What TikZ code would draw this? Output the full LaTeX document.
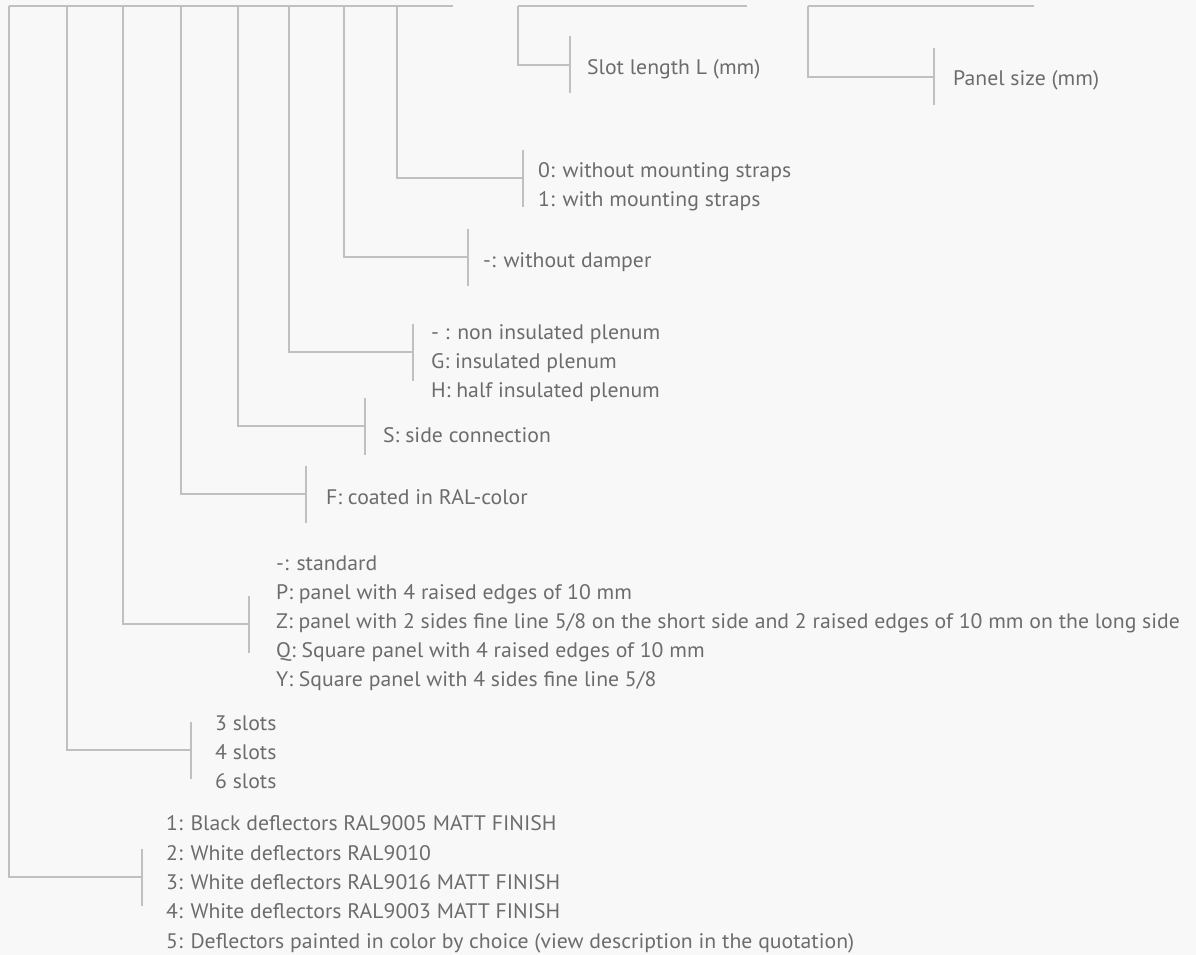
\documentclass[tikz,border=0pt]{standalone}
\usepackage{fontspec}
\setmainfont{PT Sans}[FakeStretch=1.035]
\usetikzlibrary{calc}
\definecolor{bggray}{RGB}{248,248,248}
\definecolor{linegray}{RGB}{192,192,192}
\definecolor{textgray}{RGB}{108,108,108}
\tikzset{
  leader/.style = {draw = linegray, line width = 1.2pt},
  item/.style = {anchor = base west, inner sep = 0pt, text = textgray,
                 font = \fontsize{21}{29}\selectfont}
}
% draw a short vertical bracket through a coordinate
\newcommand{\bracketat}[1]{\draw[leader] ($(#1) + (0,-28.5)$) -- ($(#1) + (0,28.5)$);}

\begin{document}
\begin{tikzpicture}[x = 1pt, y = -1pt]
	\fill[bggray] (0,0) rectangle (1196,955);
	\useasboundingbox (0,0) rectangle (1196,955);

	% Code positions along the top line
	\coordinate (a0) at (9,6);
	\coordinate (aend) at (453,6);
	\foreach \n/\x in {1/67, 2/123, 3/181, 4/238, 5/289, 6/344, 7/397}
		\coordinate (a\n) at (\x,6);
	\coordinate (slottop) at (518,6);
	\coordinate (slotend) at (747,6);
	\coordinate (paneltop) at (808,6);
	\coordinate (panelend) at (1034,6);
	\draw[leader] (a0) -- (aend);
	\draw[leader] (slottop) -- (slotend);
	\draw[leader] (paneltop) -- (panelend);

	% Slot length
	\coordinate (bslot) at (570,65);
	\node[item] (slot) at (587,75) {Slot length L (mm)};
	\draw[leader] (slottop) |- (bslot);
	\bracketat{bslot}

	% Panel size
	\coordinate (bsize) at (934,77);
	\node[item] (size) at (953,86) {Panel size (mm)};
	\draw[leader] (paneltop) |- (bsize);
	\bracketat{bsize}

	% Mounting straps
	\coordinate (bstrap) at (523,178);
	\node[item] (strap1) at (538,177) {0: without mounting straps};
	\node[item] (strap2) at (538,206) {1: with mounting straps};
	\draw[leader] (a7) |- (bstrap);
	\bracketat{bstrap}

	% Damper
	\coordinate (bdamp) at (468,257);
	\node[item] (damp) at (483,267) {-: without damper};
	\draw[leader] (a6) |- (bdamp);
	\bracketat{bdamp}

	% Plenum
	\coordinate (bplen) at (413,352);
	\node[item] (plen1) at (431,339) {- : non insulated plenum};
	\node[item] (plen2) at (431,368) {G: insulated plenum};
	\node[item] (plen3) at (431,397) {H: half insulated plenum};
	\draw[leader] (a5) |- (bplen);
	\bracketat{bplen}

	% Side connection
	\coordinate (bside) at (365,426);
	\node[item] (side) at (383,442) {S: side connection};
	\draw[leader] (a4) |- (bside);
	\bracketat{bside}

	% Coating
	\coordinate (bcoat) at (306,494);
	\node[item] (coat) at (326,504) {F: coated in RAL-color};
	\draw[leader] (a3) |- (bcoat);
	\bracketat{bcoat}

	% Panel types
	\coordinate (bpan) at (249,624);
	\node[item] (pan1) at (276,570) {-: standard};
	\node[item] (pan2) at (276,599) {P: panel with 4 raised edges of 10 mm};
	\node[item] (pan3) at (276,628) {Z: panel with 2 sides fine line 5/8 on the short side and 2 raised edges of 10 mm on the long side};
	\node[item] (pan4) at (276,657) {Q: Square panel with 4 raised edges of 10 mm};
	\node[item] (pan5) at (276,686) {Y: Square panel with 4 sides fine line 5/8};
	\draw[leader] (a2) |- (bpan);
	\bracketat{bpan}

	% Number of slots
	\coordinate (bslots) at (191,750);
	\node[item] (slots1) at (215,730) {3 slots};
	\node[item] (slots2) at (215,759) {4 slots};
	\node[item] (slots3) at (215,788) {6 slots};
	\draw[leader] (a1) |- (bslots);
	\bracketat{bslots}

	% Deflector colours
	\coordinate (bdefl) at (142,877);
	\node[item] (defl1) at (166,830) {1: Black deflectors RAL9005 MATT FINISH};
	\node[item] (defl2) at (166,860) {2: White deflectors RAL9010};
	\node[item] (defl3) at (166,889) {3: White deflectors RAL9016 MATT FINISH};
	\node[item] (defl4) at (166,918) {4: White deflectors RAL9003 MATT FINISH};
	\node[item] (defl5) at (166,948) {5: Deflectors painted in color by choice (view description in the quotation)};
	\draw[leader] (a0) |- (bdefl);
	\bracketat{bdefl}

\end{tikzpicture}
\end{document}
